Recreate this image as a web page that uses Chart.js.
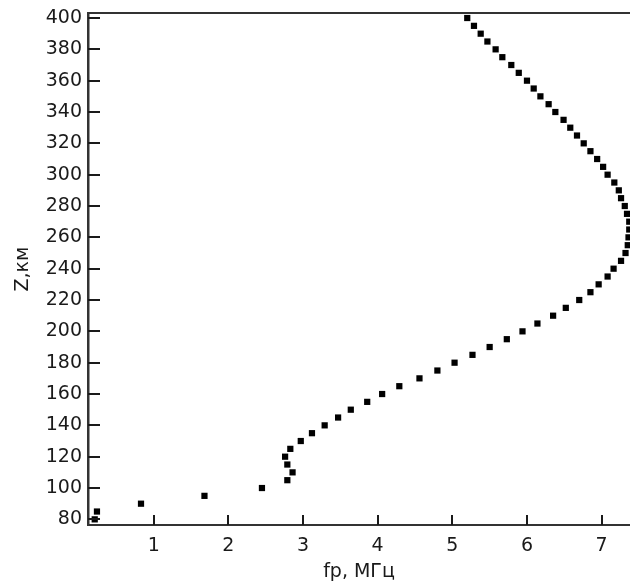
<!DOCTYPE html>
<html>
<head>
<meta charset="utf-8">
<script src="https://cdn.jsdelivr.net/npm/chart.js@4/dist/chart.umd.min.js"></script>
<style>
  html, body { margin: 0; padding: 0; background: #fff; }
  #wrap { width: 630px; height: 587px; }
</style>
</head>
<body>
<div id="wrap"><canvas id="profile"></canvas></div>
<script>
// height, km (5 km step)
var heights = [
  80, 85, 90, 95, 100, 105, 110, 115, 120, 125, 130, 135, 140, 145, 150,
  155, 160, 165, 170, 175, 180, 185, 190, 195, 200, 205, 210, 215, 220, 225,
  230, 235, 240, 245, 250, 255, 260, 265, 270, 275, 280, 285, 290, 295, 300,
  305, 310, 315, 320, 325, 330, 335, 340, 345, 350, 355, 360, 365, 370, 375,
  380, 385, 390, 395, 400
];
// plasma frequency, MHz
var fp = [
  0.21, 0.24, 0.83, 1.68, 2.45, 2.79, 2.86, 2.79, 2.76, 2.83, 2.97, 3.12, 3.29, 3.47, 3.64,
  3.86, 4.06, 4.29, 4.56, 4.80, 5.03, 5.27, 5.50, 5.73, 5.94, 6.14, 6.35, 6.52, 6.70, 6.85,
  6.96, 7.08, 7.16, 7.26, 7.32, 7.35, 7.36, 7.37, 7.37, 7.34, 7.31, 7.26, 7.23, 7.17, 7.08,
  7.02, 6.94, 6.85, 6.76, 6.67, 6.58, 6.49, 6.38, 6.29, 6.18, 6.09, 6.00, 5.89, 5.79, 5.67,
  5.58, 5.47, 5.38, 5.29, 5.20
];
var xTitle = "fp, МГц";
var yTitle = "Z,км";

var points = heights.map(function (h, i) {
  return { x: fp[i], y: h };
});

var font = { family: "DejaVu Sans", size: 19 };
var ink = "#1a1a1a";

// tick marks pointing into the plot, like the original figure
var inwardTicks = {
  id: "inwardTicks",
  afterDraw: function (chart) {
    var c = chart.ctx;
    var area = chart.chartArea;
    var sx = chart.scales.x;
    var sy = chart.scales.y;
    c.save();
    c.strokeStyle = ink;
    c.lineWidth = 2;
    c.beginPath();
    sx.ticks.forEach(function (t) {
      var px = Math.round(sx.getPixelForValue(t.value));
      c.moveTo(px, area.bottom);
      c.lineTo(px, area.bottom - 10);
    });
    sy.ticks.forEach(function (t) {
      var py = Math.round(sy.getPixelForValue(t.value));
      c.moveTo(area.left, py);
      c.lineTo(area.left + 12, py);
    });
    c.stroke();
    c.restore();
  },
};

function noPad(s) {
  s.paddingTop = 0;
  s.paddingBottom = 0;
  s.paddingLeft = 0;
  s.paddingRight = 0;
}

var ctx = document.getElementById("profile");
var chart = new Chart(ctx, {
  type: "scatter",
  data: {
    datasets: [
      {
        data: points,
        pointStyle: "rect",
        pointRadius: 4.4,
        pointHoverRadius: 4.4,
        backgroundColor: "#000",
        borderWidth: 0,
      },
    ],
  },
  plugins: [inwardTicks],
  options: {
    responsive: true,
    maintainAspectRatio: false,
    animation: false,
    events: [],
    layout: {
      autoPadding: false,
      padding: { top: 13, right: 0, left: 0, bottom: 0 },
    },
    plugins: {
      legend: { display: false },
      tooltip: { enabled: false },
    },
    scales: {
      x: {
        type: "linear",
        position: "bottom",
        min: 0.12,
        max: 7.38,
        ticks: {
          stepSize: 1,
          includeBounds: false,
          color: ink,
          font: font,
          padding: 10,
          maxRotation: 0,
        },
        grid: { drawOnChartArea: false, drawTicks: false },
        border: { color: "#333", width: 2 },
        title: {
          display: true,
          text: xTitle,
          color: ink,
          font: font,
          padding: { top: 0, bottom: 4 },
        },
        afterFit: function (s) { s.height = 62; noPad(s); },
      },
      top: {
        type: "linear",
        position: "top",
        min: 0.12,
        max: 7.38,
        ticks: { display: false },
        grid: { display: false },
        border: { color: "#333", width: 2 },
        afterFit: function (s) { s.height = 0; noPad(s); },
      },
      y: {
        type: "linear",
        position: "left",
        min: 76.4,
        max: 403.2,
        ticks: {
          stepSize: 20,
          includeBounds: false,
          color: ink,
          font: font,
          padding: 6,
        },
        grid: { drawOnChartArea: false, drawTicks: false },
        border: { color: "#333", width: 2.5 },
        title: {
          display: true,
          text: yTitle,
          color: ink,
          font: font,
          padding: { top: 12, bottom: 0 },
        },
        afterFit: function (s) { s.width = 88; noPad(s); },
      },
    },
  },
});
</script>
</body>
</html>
